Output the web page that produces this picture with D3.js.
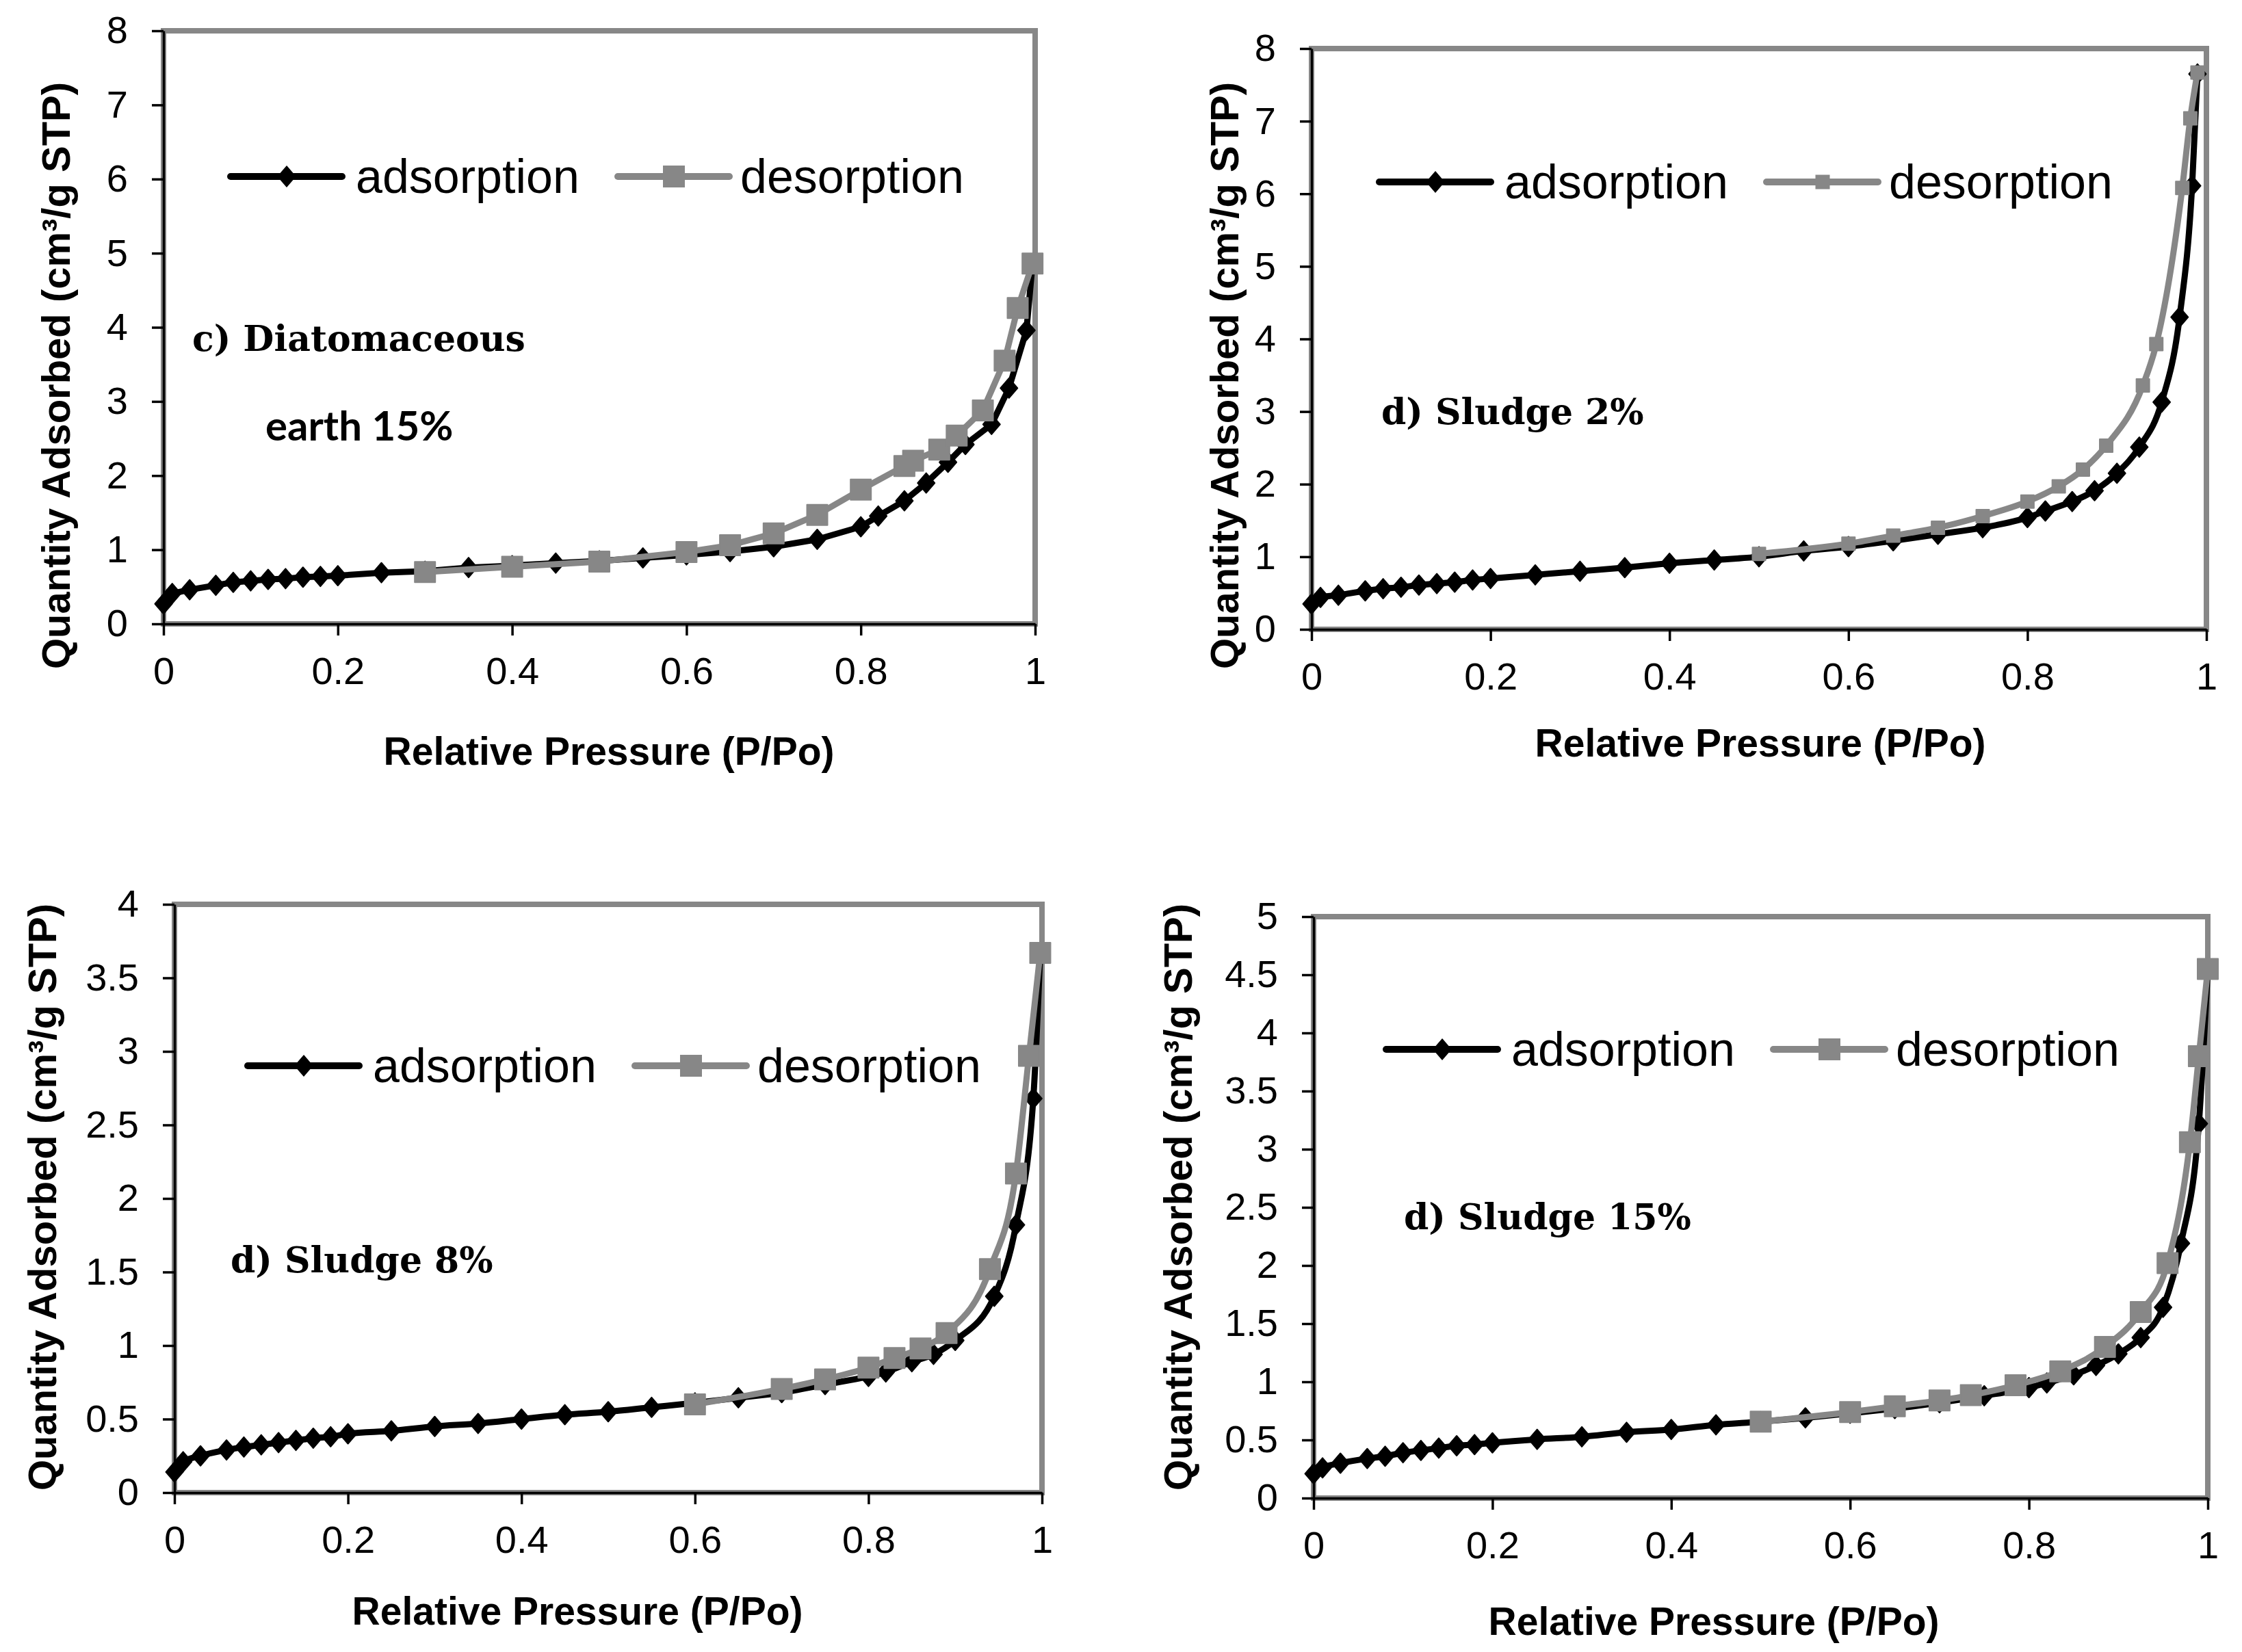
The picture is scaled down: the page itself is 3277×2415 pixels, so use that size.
<!DOCTYPE html>
<html>
<head>
<meta charset="utf-8">
<script src="https://cdn.jsdelivr.net/npm/d3@7"></script>
<style>
  body { margin: 0; background: #fff; }
  text { font-family: "Liberation Sans", Arial, sans-serif; }
</style>
</head>
<body>
<svg id="chart" width="3277" height="2415"></svg>
<script>
// data: [P/Po, quantity adsorbed]
const pressureTicks = [0, 0.2, 0.4, 0.6, 0.8, 1];

const diatomAds = [[0,0.27],[0.01,0.41],[0.03,0.46],[0.06,0.52],[0.08,0.56],[0.1,0.58],[0.12,0.6],[0.14,0.61],
  [0.16,0.63],[0.18,0.64],[0.2,0.65],[0.25,0.69],[0.3,0.71],[0.35,0.76],[0.4,0.785],[0.45,0.82],[0.5,0.85],
  [0.55,0.89],[0.6,0.93],[0.65,0.975],[0.7,1.04],[0.75,1.14],[0.8,1.31],[0.82,1.455],[0.85,1.66],[0.875,1.9],
  [0.9,2.18],[0.92,2.42],[0.95,2.69],[0.97,3.18],[0.99,3.96],[0.997,4.85]];
const diatomDes = [[0.3,0.7],[0.4,0.77],[0.5,0.84],[0.6,0.97],[0.65,1.06],[0.7,1.22],[0.75,1.47],[0.8,1.81],
  [0.85,2.13],[0.86,2.2],[0.89,2.35],[0.91,2.54],[0.94,2.88],[0.965,3.55],[0.98,4.26],[0.997,4.86]];

const sludge2Ads = [[0,0.35],[0.01,0.44],[0.03,0.47],[0.06,0.53],[0.08,0.56],[0.1,0.58],[0.12,0.61],[0.14,0.63],
  [0.16,0.65],[0.18,0.68],[0.2,0.7],[0.25,0.75],[0.3,0.8],[0.35,0.85],[0.4,0.91],[0.45,0.955],[0.5,1.0],
  [0.55,1.08],[0.6,1.14],[0.65,1.22],[0.7,1.31],[0.75,1.4],[0.8,1.54],[0.82,1.63],[0.85,1.76],[0.875,1.91],
  [0.9,2.15],[0.925,2.51],[0.95,3.13],[0.97,4.3],[0.984,6.11],[0.99,7.65]];
const sludge2Des = [[0.5,1.04],[0.6,1.18],[0.65,1.29],[0.7,1.4],[0.75,1.56],[0.8,1.76],[0.835,1.97],[0.862,2.2],
  [0.888,2.53],[0.929,3.36],[0.944,3.93],[0.973,6.08],[0.982,7.04],[0.99,7.67]];

const sludge8Ads = [[0,0.14],[0.01,0.21],[0.03,0.25],[0.06,0.29],[0.08,0.31],[0.1,0.325],[0.12,0.34],[0.14,0.355],
  [0.16,0.37],[0.18,0.38],[0.2,0.4],[0.25,0.42],[0.3,0.45],[0.35,0.47],[0.4,0.5],[0.45,0.53],[0.5,0.55],
  [0.55,0.58],[0.6,0.61],[0.65,0.645],[0.7,0.68],[0.75,0.735],[0.8,0.79],[0.82,0.82],[0.85,0.89],[0.875,0.94],
  [0.9,1.035],[0.945,1.335],[0.97,1.82],[0.99,2.68],[0.998,3.67]];
const sludge8Des = [[0.6,0.6],[0.7,0.705],[0.75,0.77],[0.8,0.85],[0.83,0.915],[0.86,0.98],[0.89,1.085],
  [0.94,1.52],[0.97,2.17],[0.985,2.97],[0.998,3.67]];

const sludge15Ads = [[0,0.21],[0.01,0.26],[0.03,0.3],[0.06,0.34],[0.08,0.36],[0.1,0.39],[0.12,0.41],[0.14,0.43],
  [0.16,0.45],[0.18,0.46],[0.2,0.475],[0.25,0.505],[0.3,0.527],[0.35,0.566],[0.4,0.59],[0.45,0.63],[0.5,0.657],
  [0.55,0.69],[0.6,0.73],[0.65,0.77],[0.7,0.82],[0.75,0.88],[0.8,0.95],[0.82,0.99],[0.85,1.06],[0.875,1.14],
  [0.9,1.24],[0.925,1.38],[0.95,1.64],[0.97,2.19],[0.99,3.22],[1.0,4.55]];
const sludge15Des = [[0.5,0.657],[0.6,0.74],[0.65,0.79],[0.7,0.84],[0.735,0.885],[0.785,0.97],[0.835,1.09],
  [0.885,1.3],[0.925,1.6],[0.955,2.02],[0.98,3.06],[0.99,3.8],[1.0,4.55]];

const seriesNames = ["adsorption", "desorption"];
const xTitle = "Relative Pressure (P/Po)";
const yTitle = "Quantity Adsorbed (cm³/g STP)";

// layout of the four panels
const panels = [
  { ads: diatomAds, des: diatomDes, yMax: 8, yStep: 1, smooth: false, sq: 30,
    l: 239, r: 1513, t: 45, b: 912, legX: 337, legY: 258,
    yTitleX: 81, yTitleY: 549, xTitleX: 890, xTitleY: 1118,
    notes: [{ text: "c) Diatomaceous", x: 281, y: 513, serif: true }, { text: "earth 15%", x: 388, y: 644, serif: false }] },
  { ads: sludge2Ads, des: sludge2Des, yMax: 8, yStep: 1, smooth: true, sq: 19,
    l: 1917, r: 3225, t: 71, b: 920, legX: 2016, legY: 266,
    yTitleX: 1789, yTitleY: 549, xTitleX: 2573, xTitleY: 1106,
    notes: [{ text: "d) Sludge 2%", x: 2019, y: 620, serif: true }] },
  { ads: sludge8Ads, des: sludge8Des, yMax: 4, yStep: 0.5, smooth: true, sq: 30,
    l: 255, r: 1523, t: 1322, b: 2182, legX: 362, legY: 1558,
    yTitleX: 61, yTitleY: 1750, xTitleX: 844, xTitleY: 2375,
    notes: [{ text: "d) Sludge 8%", x: 337, y: 1860, serif: true }] },
  { ads: sludge15Ads, des: sludge15Des, yMax: 5, yStep: 0.5, smooth: true, sq: 30,
    l: 1920, r: 3227, t: 1340, b: 2190, legX: 2026, legY: 1534,
    yTitleX: 1721, yTitleY: 1750, xTitleX: 2505, xTitleY: 2390,
    notes: [{ text: "d) Sludge 15%", x: 2052, y: 1797, serif: true }] }
];

const svg = d3.select("#chart");
svg.append("rect").attr("width", 3277).attr("height", 2415).attr("fill", "#fff");

const black = "#000", grey = "#878787";
const diamond = (w, h) => `M0,${-h/2}L${w/2},0L0,${h/2}L${-w/2},0Z`;

panels.forEach(p => {
    const g = svg.append("g");
    const x = d3.scaleLinear().domain([0, 1]).range([p.l, p.r]);
    const y = d3.scaleLinear().domain([0, p.yMax]).range([p.b, p.t]);

    // plot area border
    g.append("rect")
        .attr("x", p.l).attr("y", p.t)
        .attr("width", p.r - p.l).attr("height", p.b - p.t)
        .attr("fill", "none").attr("stroke", grey).attr("stroke-width", 8);

    // axes
    const yTicks = d3.range(0, p.yMax + p.yStep / 2, p.yStep);
    const gx = g.append("g")
        .attr("transform", `translate(0,${p.b})`)
        .call(d3.axisBottom(x).tickValues(pressureTicks).tickFormat(d => String(d))
            .tickSizeInner(17).tickSizeOuter(0).tickPadding(31));
    const gy = g.append("g")
        .attr("transform", `translate(${p.l},0)`)
        .call(d3.axisLeft(y).tickValues(yTicks).tickFormat(d => String(d))
            .tickSizeInner(17).tickSizeOuter(0).tickPadding(35));
    [gx, gy].forEach(a => {
        a.select(".domain").attr("stroke", black).attr("stroke-width", 3.5);
        a.selectAll(".tick line").attr("stroke", black).attr("stroke-width", 3.5);
        a.selectAll(".tick text").attr("fill", black)
            .style("font-family", '"Liberation Sans", Arial, sans-serif').style("font-size", "56px");
    });

    // axis titles
    g.append("text")
        .attr("x", p.xTitleX).attr("y", p.xTitleY)
        .attr("text-anchor", "middle")
        .style("font-weight", "bold").style("font-size", "57px")
        .text(xTitle);
    g.append("text")
        .attr("transform", `translate(${p.yTitleX},${p.yTitleY}) rotate(-90)`)
        .attr("text-anchor", "middle").attr("dy", "0.36em")
        .style("font-weight", "bold").style("font-size", "58px")
        .text(yTitle);

    // lines and markers
    const line = d3.line()
        .x(d => x(d[0])).y(d => y(d[1]))
        .curve(p.smooth ? d3.curveMonotoneX : d3.curveLinear);

    const series = [
        { data: p.ads, color: black, shape: diamond(25, 29) },
        { data: p.des, color: grey, shape: `M${-p.sq/2},${-p.sq/2}h${p.sq}v${p.sq}h${-p.sq}Z` }
    ];
    series.forEach(s => {
        g.append("path").datum(s.data)
            .attr("d", line)
            .attr("fill", "none").attr("stroke", s.color)
            .attr("stroke-width", 9).attr("stroke-linejoin", "round");
        g.append("g").selectAll("path")
            .data(s.data).join("path")
            .attr("transform", d => `translate(${x(d[0])},${y(d[1])})`)
            .attr("d", s.shape).attr("fill", s.color)
            .attr("stroke", s.color).attr("stroke-width", 2).attr("stroke-linejoin", "round");
    });

    // legend
    const leg = g.append("g").attr("transform", `translate(${p.legX},${p.legY})`);
    series.forEach((s, i) => {
        const ox = i * 566;
        leg.append("line")
            .attr("x1", ox).attr("x2", ox + 163)
            .attr("stroke", s.color).attr("stroke-width", 10).attr("stroke-linecap", "round");
        leg.append("path")
            .attr("transform", `translate(${ox + 82},0)`)
            .attr("d", s.shape).attr("fill", s.color)
            .attr("stroke", s.color).attr("stroke-width", 2);
        leg.append("text")
            .attr("x", ox + (i ? 179 : 183)).attr("y", 24)
            .style("font-size", "70px")
            .text(seriesNames[i]);
    });

    // sample annotation
    p.notes.forEach(n => {
        g.append("text")
            .attr("x", n.x).attr("y", n.y)
            .style("font-family", n.serif ? '"DejaVu Serif", serif' : 'Lato, "Open Sans", sans-serif')
            .style("font-weight", "bold")
            .style("font-size", n.serif ? "52px" : "60px")
            .text(n.text);
    });
});
</script>
</body>
</html>
